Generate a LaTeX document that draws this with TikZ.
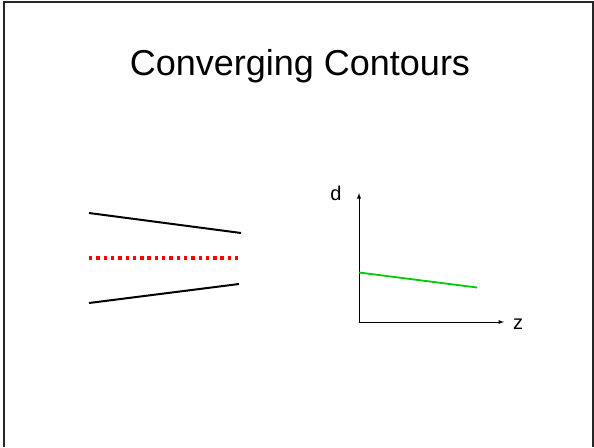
\documentclass[tikz,border=0pt]{standalone}
\usepackage{fontspec}
\setmainfont{Liberation Sans}
\definecolor{curvegreen}{RGB}{0,204,0}
\begin{document}
\begin{tikzpicture}[x=1pt,y=-1pt,
    contour/.style={line width=2pt},
    axis/.style={line width=0.9pt,-latex},
    lbl/.style={font=\fontsize{20}{24}\selectfont,inner sep=0pt,anchor=base}]
                \useasboundingbox (0,0) rectangle (594,447);
                % 边框
                \draw[line width=1.8pt,black!85] (4,447) -- (4,2) -- (592.8,2) -- (592.8,447);
                % 标题
                \node[font=\fontsize{36}{43}\selectfont,anchor=base] (title) at (300,75.5) {Converging Contours};
                % 左侧轮廓线
                \coordinate (A1) at (89,213);
                \coordinate (A2) at (241,233);
                \coordinate (B1) at (89,303);
                \coordinate (B2) at (239,284);
                \draw[contour] (A1) -- (A2);
                \draw[contour] (B1) -- (B2);
                % 中线 (红色点线)
                \coordinate (M1) at (89,258);
                \coordinate (M2) at (241,258);
                \draw[red,line width=3.4pt,dash pattern=on 3.4pt off 3.9pt] (M1) -- (M2);
                % 坐标轴
                \coordinate (O) at (359,322);
                \coordinate (Dtop) at (359,193);
                \coordinate (Zend) at (504,322);
                \draw[axis] (O) -- (Dtop);
                \draw[axis] (O) -- (Zend);
                \node[lbl] (d) at (336,200) {d};
                \node[lbl] (z) at (518,329) {z};
                % 绿线
                \coordinate (G1) at (359,272.5);
                \coordinate (G2) at (477,287.5);
                \draw[curvegreen,line width=1.8pt] (G1) -- (G2);
            \end{tikzpicture}
\end{document}
